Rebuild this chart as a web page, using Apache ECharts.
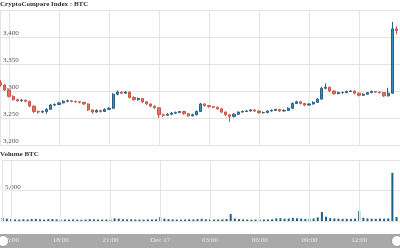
<!DOCTYPE html>
<html><head><meta charset="utf-8">
<script src="https://cdn.jsdelivr.net/npm/echarts@6/dist/echarts.min.js"></script>
<style>html,body{margin:0;padding:0;background:#fff}#c{width:400px;height:248px}</style>
</head><body><div id="c"></div>
<script>
// time in hours since Dec 16 00:00 (local); 15-minute candles
var startHour = 14.5;
var stepHour = 0.25;
var axisMinHour = 14.46;
var axisMaxHour = 38.46;
// [open, close, low, high]
var priceOHLC = [
[3316,3311,3308,3320],[3311,3302,3300,3313],[3302,3290,3288,3304],[3290,3284,3282,3292],
[3284,3282,3280,3286],[3282,3283,3280,3285],[3283,3281,3279,3284],[3281,3272,3270,3282],
[3272,3262,3259,3273],[3262,3261,3258,3264],[3261,3262,3259,3264],[3262,3266,3258,3268],
[3266,3274,3265,3276],[3274,3275,3272,3277],[3275,3278,3274,3280],[3278,3281,3277,3283],
[3281,3282,3279,3284],[3282,3281,3279,3283],[3281,3280,3278,3282],[3280,3279,3277,3281],
[3279,3276,3274,3280],[3276,3265,3263,3277],[3265,3261,3258,3266],[3261,3264,3260,3266],
[3264,3262,3260,3265],[3262,3266,3261,3268],[3266,3268,3265,3270],[3268,3294,3267,3296],
[3294,3298,3292,3301],[3298,3296,3294,3299],[3296,3298,3295,3300],[3298,3288,3286,3299],
[3288,3284,3282,3290],[3284,3286,3282,3288],[3286,3280,3278,3287],[3280,3276,3274,3281],
[3276,3272,3270,3277],[3272,3269,3267,3273],[3269,3256,3250,3270],[3256,3255,3252,3258],
[3255,3257,3254,3259],[3257,3259,3256,3261],[3259,3260,3258,3262],[3260,3262,3259,3263],
[3262,3258,3256,3263],[3258,3254,3252,3259],[3254,3256,3253,3258],[3256,3262,3255,3264],
[3262,3276,3261,3278],[3276,3273,3271,3277],[3273,3271,3269,3274],[3271,3270,3268,3272],
[3270,3267,3265,3271],[3267,3261,3259,3268],[3261,3256,3254,3262],[3256,3253,3243,3257],
[3253,3257,3251,3259],[3257,3261,3256,3262],[3261,3262,3260,3264],[3262,3263,3261,3265],
[3263,3265,3262,3266],[3265,3263,3261,3266],[3263,3260,3258,3264],[3260,3260,3258,3262],
[3260,3263,3259,3264],[3263,3264,3262,3266],[3264,3266,3263,3267],[3266,3263,3261,3267],
[3263,3264,3262,3266],[3264,3268,3263,3270],[3268,3277,3267,3279],[3277,3280,3276,3282],
[3280,3277,3275,3281],[3277,3274,3272,3278],[3274,3276,3273,3277],[3276,3279,3275,3281],
[3279,3285,3278,3287],[3285,3305,3284,3308],[3305,3307,3303,3314],[3307,3300,3298,3308],
[3300,3295,3293,3301],[3295,3297,3294,3299],[3297,3297,3295,3299],[3297,3299,3296,3301],
[3299,3300,3298,3302],[3300,3296,3294,3301],[3296,3292,3290,3297],[3292,3294,3291,3296],
[3294,3297,3293,3298],[3297,3299,3296,3301],[3299,3298,3296,3300],[3298,3297,3295,3299],
[3297,3291,3289,3298],[3291,3296,3290,3306],[3296,3415,3295,3428],[3415,3412,3405,3420]
];
var volumeValues = [
520,380,300,260,240,280,250,320,340,260,
240,300,330,260,240,250,220,260,230,210,
240,300,280,250,220,240,260,420,380,300,
260,280,250,240,230,260,250,280,650,380,
300,260,240,230,250,280,260,300,350,280,
260,240,250,280,320,1150,400,300,260,240,
220,230,250,240,260,280,420,460,380,400,
520,450,380,340,360,420,600,1475,700,480,
420,380,350,360,340,380,1640,520,420,380,
360,400,380,420,7900,650
];
var priceTitle = 'CryptoCompare Index : BTC';
var volumeTitle = 'Volume BTC';

var candleData = priceOHLC.map(function(d,i){return [startHour+i*stepHour,d[0],d[1],d[2],d[3]];});
var volData = volumeValues.map(function(v,i){return [startHour+i*stepHour,v];});
function fmtHour(v){
  var r = Math.round(v);
  if (r === 24) return 'Dec 17';
  var h = r % 24;
  return (h<10?'0':'')+h+':00';
}
var FONT = 'Liberation Serif';
var gridColor = '#e4e4e4';
var chart = echarts.init(document.getElementById('c'), null, {renderer:'canvas'});
chart.setOption({
  animation:false,
  backgroundColor:'#fff',
  textStyle:{fontFamily:FONT},
  title:[
    {text:priceTitle,left:0,top:1,padding:0,textStyle:{fontSize:7,fontWeight:'bold',color:'#333',fontFamily:FONT}},
    {text:volumeTitle,left:0,top:151,padding:0,textStyle:{fontSize:7,fontWeight:'bold',color:'#333',fontFamily:FONT}}
  ],
  grid:[
    {left:0,right:0,top:10,height:135},
    {left:0,right:0,top:160,height:61}
  ],
  xAxis:[
    {type:'value',gridIndex:0,min:axisMinHour,max:axisMaxHour,splitNumber:8,
     axisLine:{show:false},axisTick:{show:false},axisLabel:{show:false},
     splitLine:{show:true,lineStyle:{color:gridColor,width:1}}},
    {type:'value',gridIndex:1,min:axisMinHour,max:axisMaxHour,splitNumber:8,z:10,
     axisLine:{show:false},axisTick:{show:false},
     axisLabel:{show:true,margin:16,fontSize:7,color:'#e8e8e8',fontFamily:FONT,showMinLabel:false,showMaxLabel:false,formatter:fmtHour},
     splitLine:{show:true,lineStyle:{color:gridColor,width:1}}}
  ],
  yAxis:[
    {type:'value',gridIndex:0,min:3200,max:3450,interval:50,position:'left',
     axisLine:{show:false},axisTick:{show:false},
     axisLabel:{inside:true,margin:3,fontSize:7,color:'#555',fontFamily:FONT,verticalAlign:'bottom',showMaxLabel:false},
     splitLine:{show:true,lineStyle:{color:gridColor,width:1}}},
    {type:'value',gridIndex:1,min:0,max:10000,interval:5000,position:'left',
     axisLine:{show:false},axisTick:{show:false},
     axisLabel:{inside:true,margin:3,fontSize:7,color:'#555',fontFamily:FONT,verticalAlign:'bottom',showMaxLabel:false,showMinLabel:false},
     splitLine:{show:true,lineStyle:{color:gridColor,width:1}}}
  ],
  series:[
    {type:'candlestick',xAxisIndex:0,yAxisIndex:0,data:candleData,encode:{x:0,y:[1,2,3,4]},
     barWidth:2.6,
     itemStyle:{color:'#3a8ec6',color0:'#e66f5e',borderColor:'#2c5f86',borderColor0:'#c8584a',borderWidth:1}},
    {type:'bar',xAxisIndex:1,yAxisIndex:1,data:volData,barWidth:2,
     itemStyle:{color:'#1f5f85'}}
  ],
  graphic:[
    {type:'rect',z:1,shape:{x:0,y:234,width:400,height:16},style:{fill:'#a9a9a9'}},
    {type:'circle',z:2,shape:{cx:3,cy:241,r:5.5},style:{fill:'#fff',stroke:'#999',lineWidth:1}},
    {type:'circle',z:2,shape:{cx:397,cy:241,r:5.5},style:{fill:'#fff',stroke:'#999',lineWidth:1}}
  ]
});
</script></body></html>
